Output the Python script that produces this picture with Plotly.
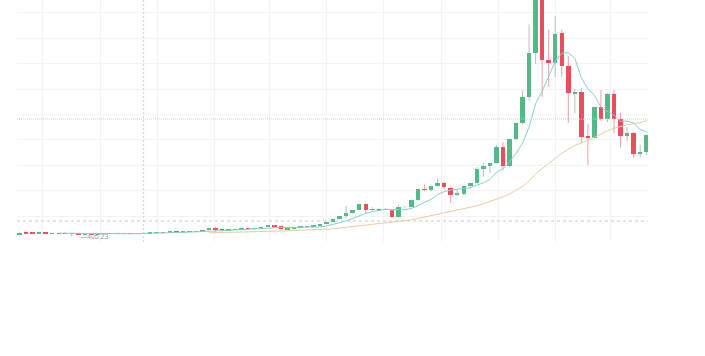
import pandas as pd
import plotly.graph_objects as go

# Weekly candles starting 2016-06-06
start_date = "2016-06-06"
open_ = [575, 740, 700, 615, 665, 650, 660, 655, 625, 590,
         575, 580, 570, 605, 610, 605, 600, 612, 615, 640,
         650, 700, 710, 700, 745, 730, 765, 770, 790, 900,
         1000, 900, 830, 910, 920, 1010, 1000, 1050, 1160, 1230,
         1200, 960, 985, 1080, 1170, 1180, 1250, 1340, 1560, 1750,
         2040, 2200, 2470, 2950, 2480, 2540, 2500, 2510, 1920, 2750,
         2750, 3250, 4110, 4080, 4340, 4600, 4210, 3680, 3760, 4360,
         4600, 5700, 5950, 6150, 7430, 5940, 8070, 9330, 11380, 14850,
         19022, 14290, 14060, 16420, 13820, 11600, 11770, 8300, 8150, 10590,
         9645, 11615, 9645, 8305, 8540, 6890, 7050]
high = [700, 780, 720, 680, 680, 670, 675, 660, 630, 600,
        585, 585, 610, 625, 612, 608, 615, 620, 645, 655,
        720, 740, 740, 750, 750, 780, 775, 800, 920, 1050,
        1150, 905, 920, 930, 1030, 1050, 1060, 1200, 1290, 1260,
        1260, 1010, 1090, 1200, 1200, 1260, 1350, 1600, 1780, 2060,
        2790, 2500, 2980, 2990, 2700, 2600, 2640, 2540, 2900, 2800,
        3300, 4130, 4480, 4360, 4980, 4700, 4350, 4100, 4400, 4600,
        5850, 6180, 6250, 7600, 7800, 8100, 9400, 11900, 17100, 19900,
        19900, 16660, 17760, 16700, 14610, 12000, 12100, 9250, 10600, 11930,
        11700, 11930, 10120, 9015, 8600, 7600, 8400]
low = [565, 610, 560, 610, 635, 645, 640, 620, 405, 570,
       565, 565, 565, 600, 600, 590, 598, 605, 612, 630,
       645, 690, 695, 700, 720, 725, 755, 765, 785, 890,
       750, 760, 820, 890, 915, 950, 990, 1040, 1140, 1100,
       900, 890, 970, 1060, 1150, 1170, 1240, 1330, 1550, 1720,
       1850, 2130, 2450, 2240, 2380, 2380, 2480, 1850, 1840, 2600,
       2700, 3200, 3950, 3950, 4300, 4100, 3020, 3580, 3650, 4150,
       4550, 5100, 5400, 6100, 5600, 5850, 8000, 9200, 11100, 14000,
       11380, 12170, 12955, 12955, 9330, 10120, 7754, 6020, 8100, 9500,
       9400, 8540, 7360, 7900, 6570, 6600, 6800]
close = [680, 625, 615, 665, 650, 660, 655, 625, 590, 575,
         580, 570, 605, 610, 605, 600, 612, 615, 640, 650,
         700, 710, 700, 745, 730, 765, 770, 790, 900, 1000,
         900, 830, 910, 920, 1010, 1000, 1050, 1160, 1230, 1200,
         960, 985, 1080, 1170, 1180, 1250, 1340, 1560, 1750, 2040,
         2200, 2470, 2950, 2490, 2540, 2500, 2510, 1920, 2750, 2750,
         3250, 4110, 4080, 4340, 4600, 4300, 3680, 3760, 4360, 4600,
         5700, 5950, 6150, 7430, 5940, 8070, 9330, 11380, 14850, 19022,
         14290, 14060, 16340, 13820, 11690, 11800, 8227, 8150, 10590, 9645,
         11615, 9645, 8305, 8540, 6890, 7050, 8385]

fast_period = 7
slow_period = 30
low_label = "405.23"
low_label_date = "2016-08-08"
low_label_value = 405.23
crosshair_date = "2016-10-17"
crosshair_value = 1608
price_line_value = 9645

dates = pd.date_range(start_date, periods=len(close), freq="7D")
df = pd.DataFrame({"o": open_, "h": high, "l": low, "c": close}, index=dates)
ma_fast = df["c"].rolling(fast_period).mean()
ma_slow = df["c"].rolling(slow_period).mean()

UP, DOWN = "#53b987", "#eb4d5c"
UP_WICK, DOWN_WICK = "#bdbdbd", "#e9a1a9"

fig = go.Figure()

# wicks (upper and lower parts) per direction
for is_up, col in ((True, UP_WICK), (False, DOWN_WICK)):
    xs, ys = [], []
    for d, o, h, l, c in zip(dates, df.o, df.h, df.l, df.c):
        if (c >= o) != is_up:
            continue
        top, bot = max(o, c), min(o, c)
        xs += [d, d, None, d, d, None]
        ys += [h, top, None, bot, l, None]
    fig.add_trace(go.Scatter(x=xs, y=ys, mode="lines",
                             line=dict(color=col, width=1),
                             hoverinfo="skip", showlegend=False))

body_base = [min(o, c) for o, c in zip(open_, close)]
body_h = [abs(c - o) for o, c in zip(open_, close)]
body_col = [UP if c >= o else DOWN for o, c in zip(open_, close)]
week_ms = 7 * 24 * 3600 * 1000
fig.add_trace(go.Bar(x=dates, y=body_h, base=body_base,
                     marker=dict(color=body_col, line=dict(width=0)),
                     width=0.68 * week_ms, showlegend=False))

fig.add_trace(go.Scatter(x=dates, y=ma_slow, mode="lines",
                         line=dict(color="#ebcb9c", width=1), showlegend=False))
fig.add_trace(go.Scatter(x=dates, y=ma_fast, mode="lines",
                         line=dict(color="#86d0cf", width=1), showlegend=False))

fig.add_hline(y=price_line_value, line=dict(color="#b9dccb", width=1, dash="1px,1px"))
fig.add_hline(y=crosshair_value, line=dict(color="#c6c6c6", width=1, dash="3px,3px"))
fig.add_vline(x=crosshair_date, line=dict(color="#cfcfcf", width=1, dash="2px,2px"))

fig.add_annotation(x=low_label_date, y=low_label_value, text="—" + low_label,
                   showarrow=False, xanchor="left", yanchor="middle",
                   xshift=0, font=dict(size=7, color="#9a9a9a", family="Arial"))

x_left = dates[0] - pd.Timedelta(days=2.7)
x_right = dates[-1] + pd.Timedelta(days=1.4)

fig.update_layout(
    width=705, height=356,
    margin=dict(l=17, r=57, t=0, b=114),
    paper_bgcolor="white", plot_bgcolor="white",
    bargap=0, showlegend=False,
    xaxis=dict(type="date", range=[x_left, x_right], showticklabels=False,
               tick0="2016-07-01", dtick="M2", showgrid=True,
               gridcolor="#f1f3f6", zeroline=False, showline=False, ticks=""),
    yaxis=dict(range=[-47, 19022], showticklabels=False, tick0=0, dtick=2000,
               showgrid=True, gridcolor="#f1f3f6", zeroline=False,
               showline=False, ticks=""),
)

fig.write_html("out.html")
